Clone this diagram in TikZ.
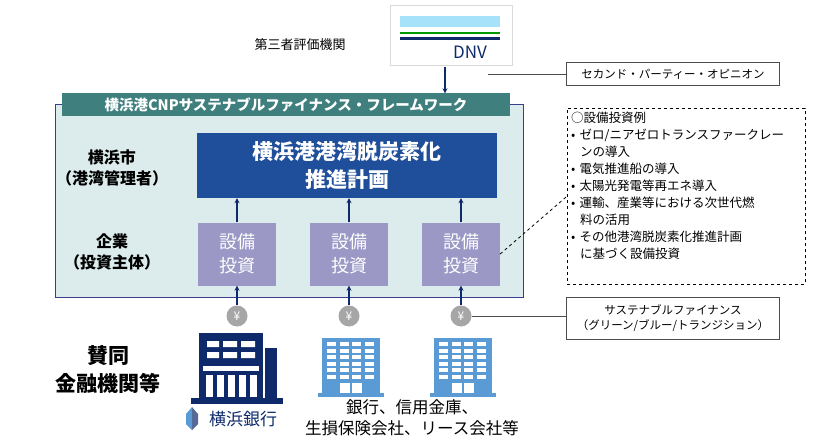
\documentclass[tikz,border=0pt]{standalone}
\usepackage{fontspec}
\setmainfont{Noto Sans CJK JP}
\usetikzlibrary{arrows.meta}
\definecolor{navy}{HTML}{1F4E9A}
\definecolor{frameb}{HTML}{3C3C8C}
\definecolor{framef}{HTML}{DCECEC}
\definecolor{tabc}{HTML}{3F7F7E}
\definecolor{lav}{HTML}{9B98C6}
\definecolor{bldg}{HTML}{5A9BD5}
\definecolor{dnavy}{HTML}{0E2A6B}
\begin{document}
\begin{tikzpicture}[x=1pt,y=-1pt,
  arr/.style={-{Stealth[length=5pt,width=5pt]},line width=1.1pt,draw=dnavy},
  inv/.style={fill=lav,minimum width=78pt,minimum height=63pt,text=white,font=\fontsize{18}{24}\selectfont,align=center,inner sep=0},
  yen/.style={circle,fill=gray!70,minimum size=21pt,inner sep=0,text=white,font=\fontsize{12}{12}\selectfont},
  note/.style={draw=black!70,fill=white,font=\fontsize{11.5}{15}\selectfont,align=center},
  lab/.style={font=\bfseries\fontsize{16}{21}\selectfont,align=center}]
\useasboundingbox (0,0) rectangle (840,441);
% DNV
\node[draw=black!15,minimum width=122pt,minimum height=60pt] (dnv) at (451,35) {};
\fill[cyan!35] (400,16) rectangle (500,27);
\fill[green!60!black] (400,32) rectangle (500,34);
\fill[dnavy] (400,37) rectangle (500,40.5);
\node[font=\fontsize{17}{17}\selectfont,text=dnavy] at (470,52) {DNV};
\node[font=\fontsize{13}{16}\selectfont] (third) at (300,45) {第三者評価機関};
% frame
\draw[frameb,fill=framef,line width=1pt] (55,105) rectangle (523,297);
\node[fill=tabc,text=white,minimum width=448pt,minimum height=23pt,inner sep=0,font=\bfseries\fontsize{14.5}{16}\selectfont] (tab) at (286,105) {横浜港CNPサステナブルファイナンス・フレームワーク};
\draw[arr] (dnv.south) ++(-6,2) coordinate (d1) -- (d1|-tab.north);
\node[fill=navy,minimum width=300pt,minimum height=65pt,text=white,align=center,font=\bfseries\fontsize{21}{28}\selectfont,inner sep=0] (plan) at (347,165.5) {横浜港港湾脱炭素化\\推進計画};
\node[lab] (city) at (112,168) {横浜市\\（港湾管理者）};
\node[lab] (corp) at (112,252) {企業\\（投資主体）};
\node[inv] (i1) at (237,254) {設備\\投資};
\node[inv] (i2) at (349,254) {設備\\投資};
\node[inv] (i3) at (461,254) {設備\\投資};
\foreach \i in {1,2,3}{\draw[arr] (i\i.north) -- (i\i.north|-plan.south);}
\node[yen] (y1) at (237,316) {¥};
\node[yen] (y2) at (349,316) {¥};
\node[yen] (y3) at (461,316) {¥};
\foreach \i in {1,2,3}{\draw[arr] (y\i.north) -- (i\i.south);}
% notes
\node[note,minimum width=213pt,minimum height=23pt] (spo) at (673,74) {セカンド・パーティー・オピニオン};
\draw[black!70] (488,74) -- (spo.west);
\node[note,minimum width=213pt,minimum height=42pt,inner sep=1pt] (sf) at (673,318) {サステナブルファイナンス\\（グリーン/ブルー/トランジション）};
\draw[black!70] (y3.east) -- (sf.west|-y3.east);
\node[draw,dashed,minimum width=238pt,minimum height=176pt,anchor=north west] (ex) at (567,108) {};
\node[anchor=north west,align=left,font=\fontsize{12.5}{17}\selectfont,text width=234pt,inner sep=0] at (571,112) {
○設備投資例\\
• ゼロ/ニアゼロトランスファークレー\\
\hspace*{9pt}ンの導入\\
• 電気推進船の導入\\
• 太陽光発電等再エネ導入\\
• 運輸、産業等における次世代燃\\
\hspace*{9pt}料の活用\\
• その他港湾脱炭素化推進計画\\
\hspace*{9pt}に基づく設備投資};
\draw[dashed,thick] (i3.east) -- (ex.west);
% buildings
\node[lab,font=\bfseries\fontsize{21}{28}\selectfont] (fin) at (108,370) {賛同\\金融機関等};
\fill[dnavy] (199,333) rectangle (263,398);
\fill[dnavy] (265,348) rectangle (277,398);
\fill[dnavy] (191,398) rectangle (283,404);
\fill[white] (207,341) rectangle (219,347) (223,341) rectangle (237,347) (241,341) rectangle (255,347);
\fill[white] (207,352) rectangle (219,358) (223,352) rectangle (237,358) (241,352) rectangle (255,358);
\fill[white] (203,366) rectangle (259,371);
\foreach \x in {206,217,228,239,250}{\fill[white] (\x,375) rectangle (\x+7,397);}
\foreach \bx in {322,434}{
 \fill[bldg] (\bx,338) rectangle (\bx+58,393);
 \fill[bldg] (\bx-4,393) rectangle (\bx+62,397);
 \foreach \r in {0,...,5}{\foreach \c in {0,...,3}{\fill[white] (\bx+5+\c*12.5,342+\r*6.5) rectangle (\bx+14+\c*12.5,346+\r*6.5);}}
 \fill[white] (\bx+18,383) rectangle (\bx+28,393);
 \fill[white] (\bx+30,383) rectangle (\bx+40,393);
}
\fill[bldg] (186,414) -- (192,407) -- (192,430) -- (186,424) -- cycle;
\fill[dnavy!70] (192,407) -- (198,414) -- (198,424) -- (192,430) -- cycle;
\node[font=\fontsize{17}{20}\selectfont,text=dnavy] (ybank) at (243,419) {横浜銀行};
\node[font=\fontsize{16.5}{21}\selectfont,align=center] (others) at (412,418) {銀行、信用金庫、\\生損保険会社、リース会社等};
\end{tikzpicture}
\end{document}
